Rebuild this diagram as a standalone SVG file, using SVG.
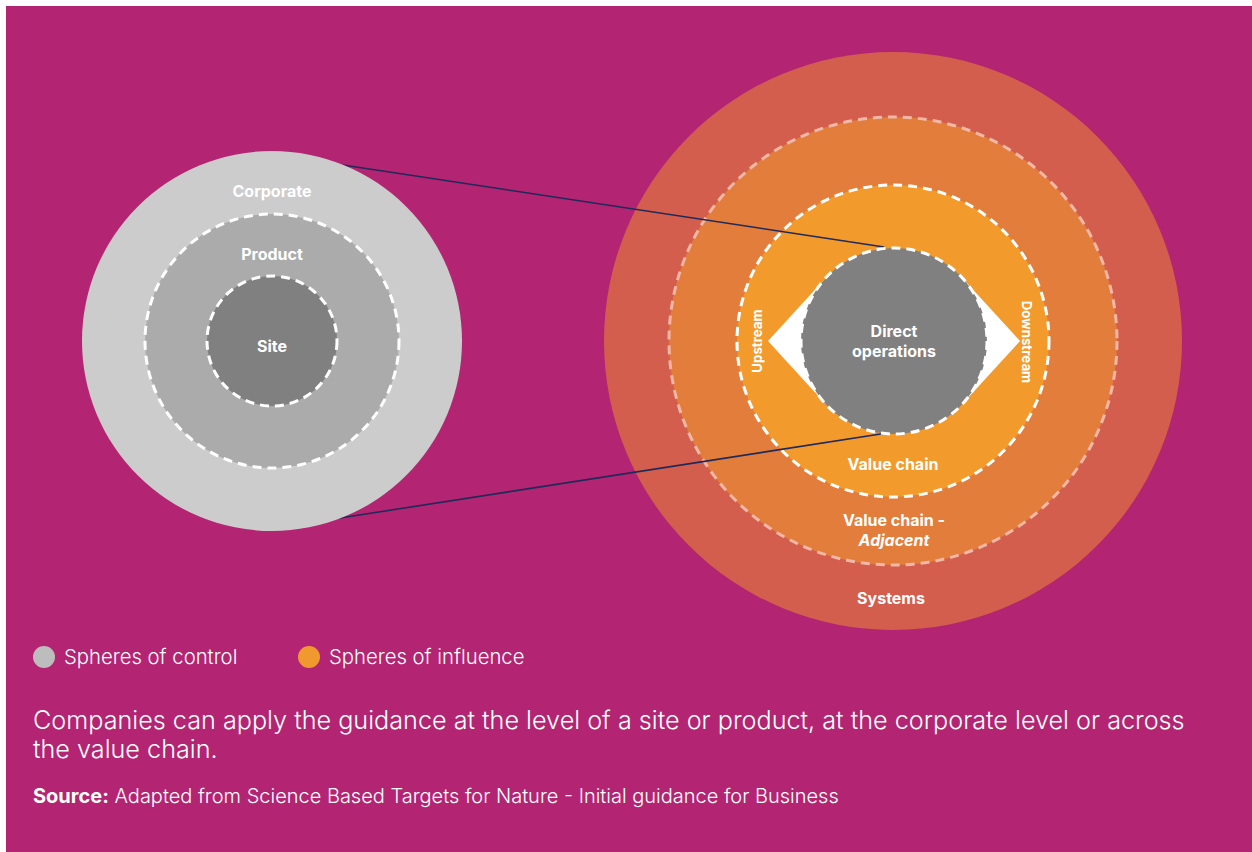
<svg xmlns="http://www.w3.org/2000/svg" width="1252" height="852" viewBox="0 0 1252 852">
  <defs>
    <style>
      .lbl { font-family: Inter, "Liberation Sans", sans-serif; font-weight: 700; font-size: 16px; fill: #ffffff; text-anchor: middle; }
      .side { font-size: 13.3px; font-weight: 700; }
      .dash { fill: none; stroke: #ffffff; stroke-width: 3; stroke-dasharray: 9 6; }
      .dash-soft { fill: none; stroke: #F2B7A6; stroke-width: 3; stroke-dasharray: 9 6; }
      .link { fill: none; stroke: #1E2A5A; stroke-width: 1.6; }
      .legend { font-family: Inter, "Liberation Sans", sans-serif; font-weight: 300; font-size: 20.3px; fill: #ffffff; }
      .caption { font-family: Inter, "Liberation Sans", sans-serif; font-weight: 300; font-size: 25.2px; fill: #ffffff; }
      .source { font-family: Inter, "Liberation Sans", sans-serif; font-weight: 300; font-size: 20px; fill: #ffffff; }
    </style>
  </defs>

  <!-- page -->
  <rect x="0" y="0" width="1252" height="852" fill="#ffffff"/>
  <rect x="6" y="6" width="1246" height="846" fill="#B32572"/>

  <!-- spheres of influence -->
  <g id="systems">
    <circle cx="893" cy="341" r="289" fill="#D45E4D"/>
    <text class="lbl" x="891" y="604">Systems</text>
  </g>
  <g id="value-chain-adjacent">
    <circle cx="893" cy="341" r="224" fill="#E37D3B"/>
    <circle class="dash-soft" cx="893" cy="341" r="224"/>
    <text class="lbl" x="894" y="526">Value chain -</text>
    <text class="lbl" x="894" y="546" font-style="italic" font-weight="500">Adjacent</text>
  </g>
  <g id="value-chain">
    <circle cx="893" cy="341" r="156" fill="#F39A2C"/>
    <circle class="dash" cx="893" cy="341" r="156"/>
    <text class="lbl" x="893" y="470" font-size="15.5">Value chain</text>
  </g>

  <!-- connectors from the control spheres to direct operations -->
  <g id="connectors">
    <line class="link" x1="343" y1="165" x2="884" y2="247"/>
    <line class="link" x1="340" y1="518" x2="887" y2="433"/>
  </g>

  <g id="upstream">
    <polygon points="768,341 825.4,278.2 894,341 825.4,403.8" fill="#ffffff"/>
    <text class="lbl side" transform="translate(762,341) rotate(-90)">Upstream</text>
  </g>
  <g id="downstream">
    <polygon points="1020,341 962.6,278.2 894,341 962.6,403.8" fill="#ffffff"/>
    <text class="lbl side" transform="translate(1022,342) rotate(90)">Downstream</text>
  </g>
  <g id="direct-operations">
    <circle cx="894" cy="341" r="93" fill="#808080"/>
    <circle class="dash" cx="894" cy="341" r="93"/>
    <text class="lbl" x="894" y="337">Direct</text>
    <text class="lbl" x="894" y="357">operations</text>
  </g>

  <!-- spheres of control -->
  <g id="corporate">
    <circle cx="272" cy="341" r="190" fill="#CCCCCC"/>
    <text class="lbl" x="272" y="197">Corporate</text>
  </g>
  <g id="product">
    <circle cx="272" cy="341" r="127" fill="#ABABAB"/>
    <circle class="dash" cx="272" cy="341" r="127"/>
    <text class="lbl" x="272" y="260">Product</text>
  </g>
  <g id="site">
    <circle cx="272" cy="341" r="65" fill="#808080"/>
    <circle class="dash" cx="272" cy="341" r="65"/>
    <text class="lbl" x="272" y="352">Site</text>
  </g>

  <!-- legend -->
  <g id="legend">
    <circle cx="44" cy="657" r="11" fill="#BDBDBD"/>
    <text class="legend" x="64" y="664">Spheres of control</text>
    <circle cx="309" cy="657" r="11" fill="#F0992F"/>
    <text class="legend" x="329" y="664">Spheres of influence</text>
  </g>

  <!-- caption -->
  <g id="caption">
    <text class="caption" x="33" y="729">Companies can apply the guidance at the level of a site or product, at the corporate level or across</text>
    <text class="caption" x="33" y="758">the value chain.</text>
    <text class="source" x="33" y="803"><tspan font-weight="700">Source:</tspan> Adapted from Science Based Targets for Nature - Initial guidance for Business</text>
  </g>
</svg>
